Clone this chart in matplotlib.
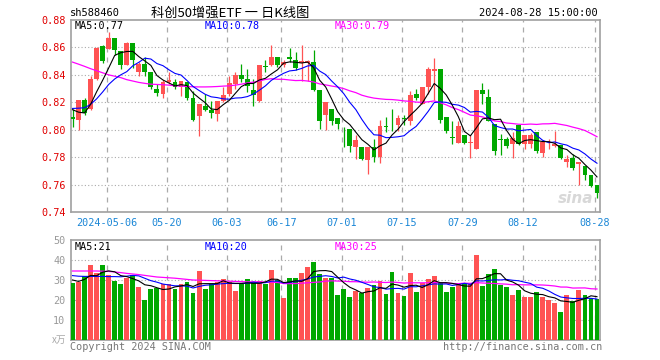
import matplotlib
matplotlib.use('Agg')
import matplotlib.pyplot as plt
import numpy as np
import pandas as pd

# trading days shown (holidays removed)
holidays = ['2024-05-01', '2024-05-02', '2024-05-03', '2024-06-10']
dates = pd.bdate_range('2024-04-23', '2024-08-28')
dates = dates[~dates.isin(pd.to_datetime(holidays))]

tick_dates = ['2024-05-06', '2024-05-20', '2024-06-03', '2024-06-17', '2024-07-01',
              '2024-07-15', '2024-07-29', '2024-08-12', '2024-08-28']
tick_labels = ['2024-05-06', '05-20', '06-03', '06-17', '07-01', '07-15', '07-29', '08-12', '08-28']

opens = [0.809, 0.807, 0.822, 0.815, 0.837, 0.8612, 0.859, 0.8667, 0.8575, 0.8474,
         0.8635, 0.8419, 0.8476, 0.8424, 0.830, 0.8258, 0.8348, 0.835, 0.8315, 0.835,
         0.8233, 0.8097, 0.8176, 0.8146, 0.8114, 0.8208, 0.8258, 0.8332, 0.840, 0.837,
         0.829, 0.8208, 0.8465, 0.8469, 0.8531, 0.8475, 0.8528, 0.8511, 0.8486, 0.8488,
         0.8493, 0.8288, 0.8109, 0.8154, 0.8089, 0.8007, 0.8005, 0.7874, 0.7874, 0.7782,
         0.7874, 0.780, 0.8027, 0.8087, 0.8035, 0.8085, 0.806, 0.8263, 0.8191, 0.8313,
         0.8431, 0.8444, 0.8092, 0.7945, 0.7906, 0.796, 0.7906, 0.7861, 0.8288, 0.8238,
         0.8042, 0.7933, 0.7933, 0.7894, 0.8035, 0.7899, 0.7899, 0.7985, 0.7829, 0.7886,
         0.7879, 0.7886, 0.7762, 0.7792, 0.775, 0.7738, 0.7671, 0.7596]
highs = [0.815, 0.822, 0.823, 0.8394, 0.8605, 0.862, 0.8716, 0.867, 0.8575, 0.8642,
         0.8635, 0.8493, 0.853, 0.8424, 0.8332, 0.8365, 0.842, 0.837, 0.8352, 0.835,
         0.8283, 0.8191, 0.8263, 0.821, 0.8208, 0.8308, 0.8394, 0.842, 0.848, 0.8444,
         0.837, 0.8469, 0.8506, 0.8617, 0.8531, 0.851, 0.8593, 0.8568, 0.8617, 0.8506,
         0.858, 0.8288, 0.8201, 0.8154, 0.8089, 0.8023, 0.8005, 0.7961, 0.7874, 0.7874,
         0.7931, 0.8072, 0.8092, 0.8151, 0.8109, 0.8109, 0.8283, 0.8295, 0.8313, 0.8456,
         0.8526, 0.8444, 0.8092, 0.806, 0.806, 0.796, 0.796, 0.8288, 0.834, 0.830,
         0.8042, 0.7966, 0.795, 0.7985, 0.8035, 0.796, 0.7973, 0.7985, 0.7911, 0.7931,
         0.7993, 0.7886, 0.7819, 0.7824, 0.7767, 0.7738, 0.7671, 0.7596]
lows = [0.802, 0.800, 0.811, 0.8146, 0.8365, 0.849, 0.8588, 0.8548, 0.844, 0.847,
        0.8449, 0.8394, 0.8394, 0.8295, 0.8246, 0.8228, 0.8332, 0.8295, 0.8246, 0.822,
        0.806, 0.7953, 0.8134, 0.8085, 0.806, 0.8201, 0.8246, 0.830, 0.8345, 0.8275,
        0.8171, 0.8203, 0.842, 0.8464, 0.8456, 0.846, 0.8493, 0.8439, 0.8357, 0.8357,
        0.8283, 0.8005, 0.7998, 0.8035, 0.8005, 0.7874, 0.7837, 0.7787, 0.778, 0.768,
        0.7762, 0.7755, 0.7985, 0.799, 0.799, 0.8035, 0.8035, 0.822, 0.8184, 0.8258,
        0.822, 0.8052, 0.7973, 0.7899, 0.7906, 0.7899, 0.7795, 0.786, 0.8191, 0.806,
        0.7819, 0.7812, 0.7869, 0.7795, 0.7886, 0.7861, 0.7869, 0.7832, 0.7804, 0.7861,
        0.7874, 0.779, 0.7725, 0.7705, 0.7596, 0.7631, 0.7581, 0.7502]
closes = [0.808, 0.822, 0.812, 0.837, 0.8593, 0.850, 0.8667, 0.858, 0.8469, 0.8635,
          0.8506, 0.8476, 0.842, 0.8308, 0.8265, 0.8345, 0.8365, 0.8315, 0.8352, 0.8233,
          0.8072, 0.8184, 0.8146, 0.8122, 0.8208, 0.8253, 0.834, 0.840, 0.837, 0.832,
          0.8255, 0.8469, 0.846, 0.8531, 0.8469, 0.8495, 0.8518, 0.8449, 0.8501, 0.8504,
          0.829, 0.806, 0.8201, 0.806, 0.8042, 0.8003, 0.7881, 0.7923, 0.7787, 0.7874,
          0.780, 0.8027, 0.8023, 0.8082, 0.8085, 0.808, 0.825, 0.8233, 0.8313, 0.8444,
          0.8444, 0.8072, 0.7993, 0.794, 0.8027, 0.7906, 0.7911, 0.8288, 0.8263, 0.806,
          0.7844, 0.7928, 0.7881, 0.7943, 0.7894, 0.796, 0.796, 0.7844, 0.7911, 0.7889,
          0.7899, 0.7792, 0.7787, 0.7718, 0.7762, 0.7671, 0.7589, 0.7539]
volumes = [28.7, 29.2, 32.0, 37.5, 33.3, 37.5, 32.5, 29.7, 28.0, 30.8,
           32.5, 26.7, 20.0, 25.7, 25.8, 28.0, 28.0, 25.3, 28.0, 29.2,
           23.3, 34.7, 25.7, 28.0, 29.2, 30.5, 29.2, 24.7, 28.0, 30.5,
           29.2, 29.5, 28.0, 35.0, 30.0, 21.2, 30.8, 30.8, 33.7, 36.7,
           39.2, 32.8, 31.2, 31.2, 22.5, 25.5, 21.5, 24.5, 23.3, 26.0,
           27.3, 29.5, 23.0, 34.0, 23.5, 22.0, 33.5, 24.0, 28.3, 30.5,
           32.2, 28.3, 24.0, 26.5, 27.5, 28.7, 27.8, 42.5, 27.0, 33.2,
           35.5, 27.5, 26.5, 22.5, 25.0, 21.5, 21.5, 24.0, 21.5, 19.8,
           18.5, 14.0, 22.5, 19.3, 25.0, 22.5, 21.2, 20.3]

# moving-average values before enough candles are on screen
ma5_head = [0.8146, 0.8128, 0.8122, 0.8185]
ma10_head = [0.8155, 0.8157, 0.816, 0.8185, 0.8225, 0.8275, 0.833, 0.837, 0.840]
ma30_head = [0.8493, 0.8478, 0.8462, 0.8445, 0.843, 0.8415, 0.840, 0.839, 0.838, 0.8365,
             0.8355, 0.8345, 0.8338, 0.8332, 0.833, 0.8328, 0.8325, 0.832, 0.8318, 0.8315,
             0.8313, 0.8312, 0.8312, 0.8313, 0.8315, 0.8318, 0.832, 0.8325, 0.8332]
vma5_head = [30.0, 29.3, 30.3, 32.3]
vma10_head = [32.2, 31.9, 31.8, 31.8, 31.8, 31.8, 31.7, 31.7, 31.6]
vma30_head = [34.5, 34.5, 34.5, 34.5, 34.5, 34.4, 34.3, 34.0, 33.7, 33.3,
              33.0, 32.7, 32.3, 31.9, 31.5, 31.3, 31.1, 30.9, 30.6, 30.3,
              30.0, 29.9, 29.8, 29.7, 29.6, 29.5, 29.4, 29.3, 29.2]

RED = '#ff5353'
GREEN = '#00a800'
GRID = '#aaaaaa'
MONO = 'DejaVu Sans Mono'


def moving_avg(values, n, head):
    s = pd.Series(values, dtype=float).rolling(n).mean()
    s.iloc[:n - 1] = head
    return s.values


x = np.arange(len(dates))
o, h, l, c = map(np.array, (opens, highs, lows, closes))
up = c >= o
colors = np.where(up, RED, GREEN)
tick_idx = [dates.get_loc(pd.Timestamp(d)) for d in tick_dates]

fig = plt.figure(figsize=(6.6, 3.6), dpi=100)
W, H = 660, 360
ax = fig.add_axes([71 / W, 1 - 212 / H, 529 / W, 192 / H])
axv = fig.add_axes([71 / W, 20 / H, 529 / W, 100 / H])

# price panel
ax.vlines(x, l, h, colors=colors, linewidth=0.9, zorder=3)
body = np.maximum(np.abs(c - o), 0.0004)
ax.bar(x, body, bottom=np.minimum(o, c), width=0.8, color=colors, linewidth=0, zorder=4)
ax.plot(x, moving_avg(closes, 30, ma30_head), color='#ff00ff', lw=0.9, zorder=5)
ax.plot(x, moving_avg(closes, 10, ma10_head), color='#0000ff', lw=0.8, zorder=5)
ax.plot(x, moving_avg(closes, 5, ma5_head), color='black', lw=0.8, zorder=5)

ax.set_xlim(-0.25, len(x) - 0.5)
ax.set_ylim(0.74, 0.88)
ax.set_yticks(np.arange(0.74, 0.881, 0.02))
ax.set_yticklabels([f'{v:.2f}' for v in np.arange(0.74, 0.881, 0.02)],
                   color='#e00000', fontsize=7.3, family=MONO)
for v in np.arange(0.76, 0.87, 0.02):
    ax.axhline(v, color=GRID, lw=0.8, ls=(0, (1, 2)), zorder=1)
ax.set_xticks([i - 0.35 for i in tick_idx])
ax.set_xticklabels(tick_labels, color='#1a86d6', fontsize=7.3, family=MONO)
for i in tick_idx:
    ax.axvline(i - 0.35, color=GRID, lw=0.9, ls=(0, (4, 4)), zorder=1)
ax.tick_params(length=0, pad=4)
ax.text(0.988, 0.03, 'sina', transform=ax.transAxes, ha='right', va='bottom',
        fontsize=11, style='italic', weight='bold', color='#d8d8d8', zorder=2)

ax.text(4 / 529, 1 - 6 / 192, 'MA5:0.77', transform=ax.transAxes, va='center',
        fontsize=7.3, family=MONO, color='black')
ax.text(134 / 529, 1 - 6 / 192, 'MA10:0.78', transform=ax.transAxes, va='center',
        fontsize=7.3, family=MONO, color='#0000ff')
ax.text(264 / 529, 1 - 6 / 192, 'MA30:0.79', transform=ax.transAxes, va='center',
        fontsize=7.3, family=MONO, color='#ff00ff')

# volume panel
axv.bar(x, volumes, width=0.8, color=colors, linewidth=0, zorder=3)
axv.plot(x, moving_avg(volumes, 30, vma30_head), color='#ff00ff', lw=0.9, zorder=5)
axv.plot(x, moving_avg(volumes, 10, vma10_head), color='#0000ff', lw=0.8, zorder=5)
axv.plot(x, moving_avg(volumes, 5, vma5_head), color='black', lw=0.8, zorder=5)
axv.set_xlim(-0.25, len(x) - 0.5)
axv.set_ylim(0, 50)
axv.set_yticks([10, 20, 30, 40, 50])
axv.set_yticklabels(['10', '20', '30', '40', '50'], color='#999999', fontsize=7.3, family=MONO)
axv.set_xticks([])
for v in [10, 20, 30, 40]:
    axv.axhline(v, color=GRID, lw=0.8, ls=(0, (1, 2)), zorder=1)
for i in tick_idx:
    axv.axvline(i - 0.35, color=GRID, lw=0.9, ls=(0, (4, 4)), zorder=1)
axv.tick_params(length=0, pad=4)
axv.text(4 / 529, 1 - 7 / 100, 'MA5:21', transform=axv.transAxes, va='center',
         fontsize=7.3, family=MONO, color='black', zorder=6)
axv.text(134 / 529, 1 - 7 / 100, 'MA10:20', transform=axv.transAxes, va='center',
         fontsize=7.3, family=MONO, color='#0000ff', zorder=6)
axv.text(264 / 529, 1 - 7 / 100, 'MA30:25', transform=axv.transAxes, va='center',
         fontsize=7.3, family=MONO, color='#ff00ff', zorder=6)

for a in (ax, axv):
    for s in a.spines.values():
        s.set_color('#a0a0a0')
        s.set_linewidth(1.2)

# header / footer texts
fig.text(70 / W, 1 - 13 / H, 'sh588460', fontsize=7.5, family=MONO, va='center')
fig.text(230 / W, 1 - 13 / H, '科创50增强ETF 一 日K线图', fontsize=9.5,
         family=['Noto Sans CJK SC', 'DejaVu Sans'], ha='center', va='center')
fig.text(598 / W, 1 - 13 / H, '2024-08-28 15:00:00', fontsize=7.5, family=MONO,
         ha='right', va='center')
fig.text(66 / W, 1 - 340 / H, 'x万', fontsize=7, family=['Noto Sans CJK SC', 'DejaVu Sans'],
         ha='right', va='center', color='#aaaaaa', style='italic')
fig.text(70 / W, 1 - 347 / H, 'Copyright 2024 SINA.COM', fontsize=7.3, family=MONO,
         va='center', color='#777777')
fig.text(602 / W, 1 - 347 / H, 'http://finance.sina.com.cn', fontsize=7.3, family=MONO,
         ha='right', va='center', color='#777777')

fig.savefig('out.png', dpi=100)
